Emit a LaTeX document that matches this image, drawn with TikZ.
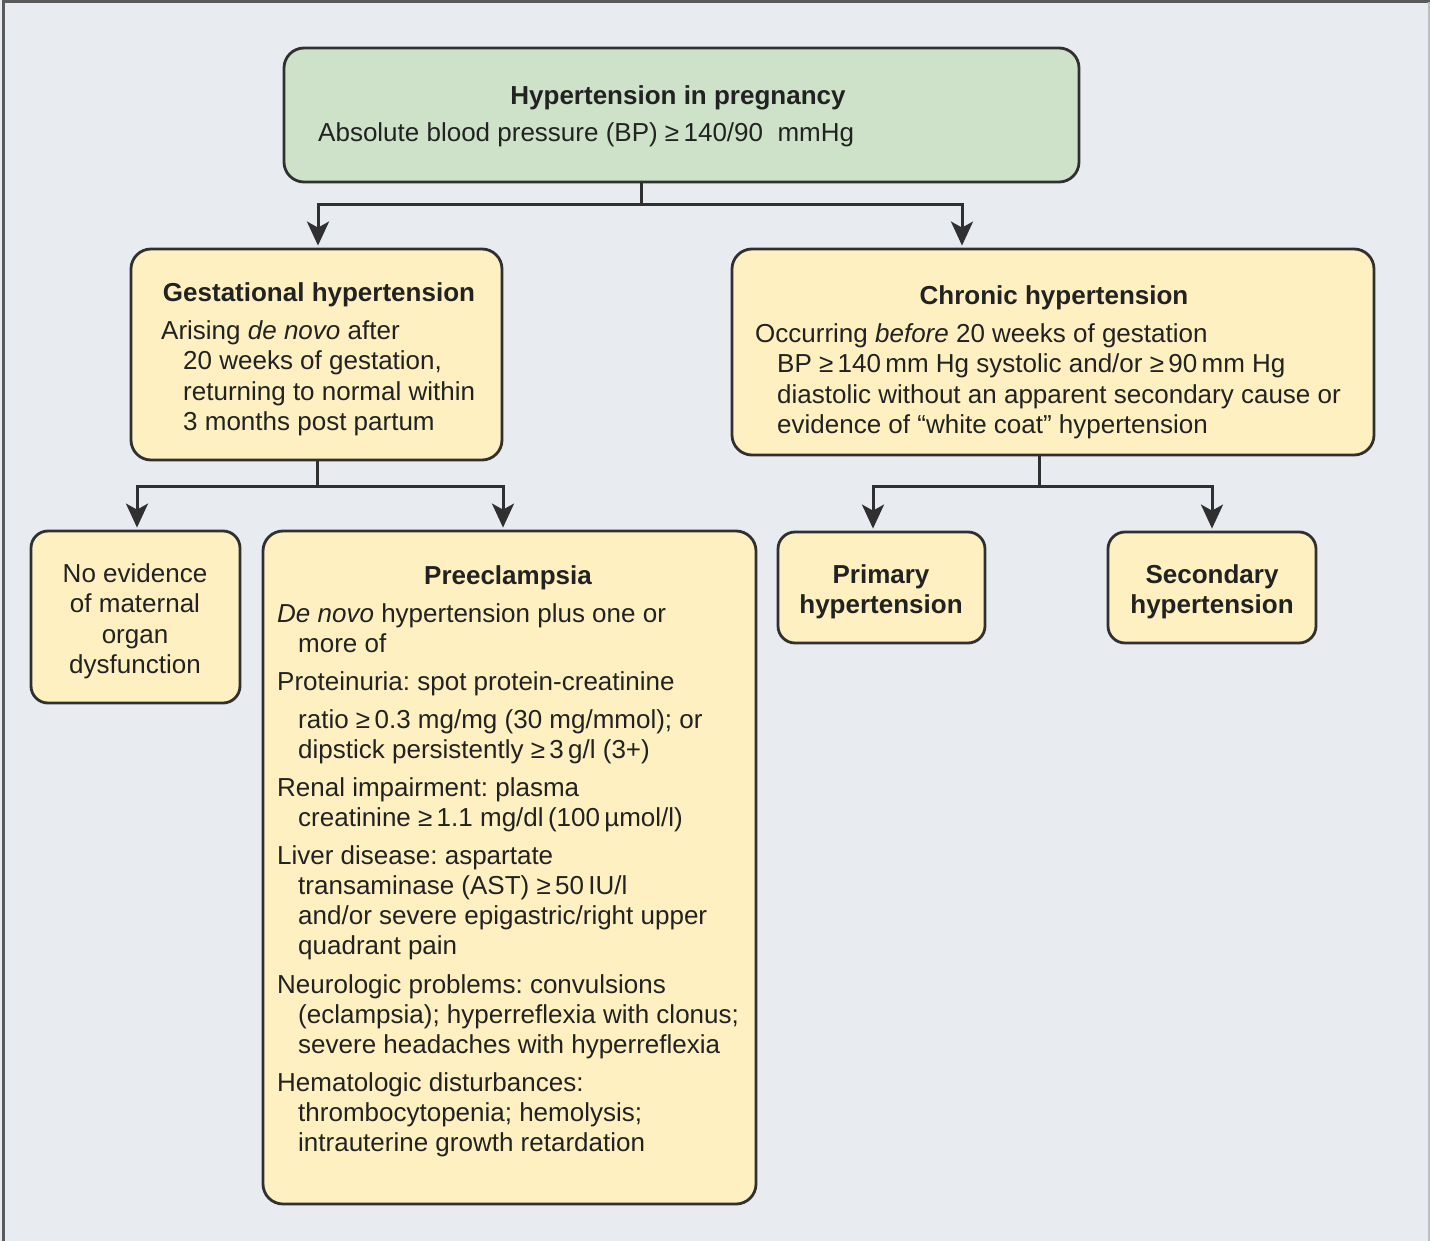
\documentclass[tikz,border=0pt]{standalone}
\usepackage{fontspec}
\setmainfont{Liberation Sans}
\usetikzlibrary{arrows.meta}
\definecolor{bgcol}{HTML}{E8EBF0}
\definecolor{greenfill}{HTML}{CDE2C8}
\definecolor{yellowfill}{HTML}{FEF0C0}
\definecolor{edgecol}{HTML}{303030}
\definecolor{inkcol}{HTML}{222222}
\frenchspacing
\tikzset{
  boxbase/.style={draw=edgecol, line width=2.8pt, rounded corners=20pt, inner sep=0pt},
  greenbox/.style={boxbase, fill=greenfill},
  yellowbox/.style={boxbase, fill=yellowfill},
  smallbox/.style={boxbase, fill=yellowfill, rounded corners=17pt},
  txt/.style={inner sep=0pt, anchor=base west, text=inkcol, font=\fontsize{26}{30}\selectfont},
  ctxt/.style={inner sep=0pt, anchor=base, text=inkcol, font=\fontsize{26}{30}\selectfont, align=center},
  ttl/.style={inner sep=0pt, anchor=base, text=inkcol, font=\fontsize{26}{30}\selectfont\bfseries, align=center},
  link/.style={draw=edgecol, line width=3pt},
  arr/.style={link, -{Stealth[length=24pt, width=22pt, inset=6pt]}, shorten >=2pt}
}
\begin{document}
\begin{tikzpicture}[x=1pt, y=-1pt]
% canvas and frame
\fill[bgcol] (0,0) rectangle (1430,1241);
\useasboundingbox (0,0) rectangle (1430,1241);
\draw[edgecol!80, line width=3pt] (3,1241) -- (3,2) -- (1430,2);
\draw[black!25, line width=1.5pt] (1429,2) -- (1429,1241);

% boxes
\node[greenbox, minimum width=795pt, minimum height=134pt] (top) at (681.5,115) {};
\node[yellowbox, minimum width=371pt, minimum height=211pt] (gest) at (316.5,354.5) {};
\node[yellowbox, minimum width=642pt, minimum height=206pt] (chron) at (1053,352) {};
\node[smallbox, minimum width=209pt, minimum height=172pt] (noev) at (135.5,617) {};
\node[yellowbox, minimum width=493pt, minimum height=673pt] (pre) at (509.5,867.5) {};
\node[smallbox, minimum width=207pt, minimum height=111pt] (prim) at (881.5,587.5) {};
\node[smallbox, minimum width=208pt, minimum height=111pt] (sec) at (1212,587.5) {};

% connectors
\coordinate (j1) at (641,205);
\coordinate (j2) at (317,486);
\coordinate (j3) at (1039,486);
\draw[link] (top.south -| j1) -- (j1);
\draw[arr] (j1) -| (gest.north -| 318,0);
\draw[arr] (j1) -| (chron.north -| 962,0);
\draw[link] (gest.south -| j2) -- (j2);
\draw[arr] (j2) -| (noev.north -| 137,0);
\draw[arr] (j2) -| (pre.north -| 503,0);
\draw[link] (chron.south -| j3) -- (j3);
\draw[arr] (j3) -| (prim.north -| 873,0);
\draw[arr] (j3) -| (sec.north -| 1212,0);

% top box text
\node[ttl] (t1) at (678,105) {Hypertension in pregnancy};
\node[txt] (t2) at (318,142) {Absolute blood pressure (BP) ≥\,140/90\ \ mmHg};

% gestational hypertension
\node[ttl] (g0) at (319,302) {Gestational hypertension};
\node[txt] (g1) at (161,340) {Arising \textit{de novo} after};
\node[txt] (g2) at (183,370) {20 weeks of gestation,};
\node[txt] (g3) at (183,400) {returning to normal within};
\node[txt] (g4) at (183,430) {3 months post partum};

% chronic hypertension
\node[ttl] (c0) at (1054,305) {Chronic hypertension};
\node[txt] (c1) at (755,343) {Occurring \textit{before} 20 weeks of gestation};
\node[txt] (c2) at (777,373) {BP ≥\,140\,mm Hg systolic and/or ≥\,90\,mm Hg};
\node[txt] (c3) at (777,403) {diastolic without an apparent secondary cause or};
\node[txt] (c4) at (777,433) {evidence of “white coat” hypertension};

% no evidence
\node[ctxt] (n1) at (135,582) {No evidence};
\node[ctxt] (n2) at (135,612) {of maternal};
\node[ctxt] (n3) at (135,643) {organ};
\node[ctxt] (n4) at (135,673) {dysfunction};

% primary / secondary
\node[ttl] (pr1) at (881,583) {Primary};
\node[ttl] (pr2) at (881,613) {hypertension};
\node[ttl] (se1) at (1212,583) {Secondary};
\node[ttl] (se2) at (1212,613) {hypertension};

% preeclampsia
\node[ttl] (p0) at (508,584) {Preeclampsia};
\node[txt] (p1) at (277,622) {\textit{De novo} hypertension plus one or};
\node[txt] (p2) at (298,652) {more of};
\node[txt] (p3) at (277,690) {Proteinuria: spot protein-creatinine};
\node[txt] (p4) at (298,728) {ratio ≥\,0.3 mg/mg (30 mg/mmol); or};
\node[txt] (p5) at (298,758) {dipstick persistently ≥\,3\,g/l (3+)};
\node[txt] (p6) at (277,796) {Renal impairment: plasma};
\node[txt] (p7) at (298,826) {creatinine ≥\,1.1 mg/dl\,(100\,µmol/l)};
\node[txt] (p8) at (277,864) {Liver disease: aspartate};
\node[txt] (p9) at (298,894) {transaminase (AST) ≥\,50\,IU/l};
\node[txt] (p10) at (298,924) {and/or severe epigastric/right upper};
\node[txt] (p11) at (298,954) {quadrant pain};
\node[txt] (p12) at (277,993) {Neurologic problems: convulsions};
\node[txt] (p13) at (298,1023) {(eclampsia); hyperreflexia with clonus;};
\node[txt] (p14) at (298,1053) {severe headaches with hyperreflexia};
\node[txt] (p15) at (277,1091) {Hematologic disturbances:};
\node[txt] (p16) at (298,1121) {thrombocytopenia; hemolysis;};
\node[txt] (p17) at (298,1151) {intrauterine growth retardation};
\end{tikzpicture}
\end{document}
